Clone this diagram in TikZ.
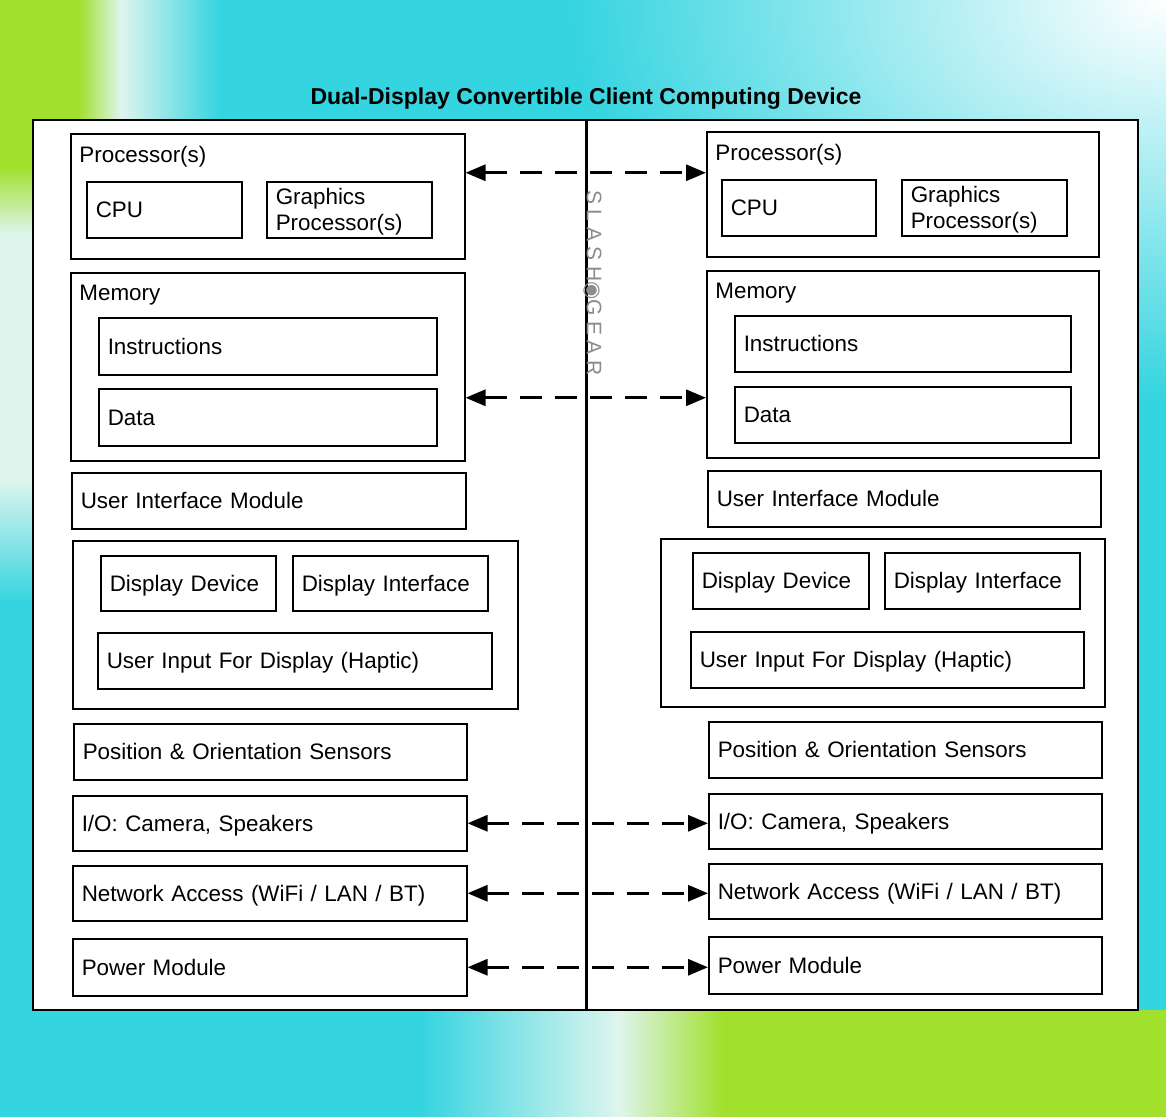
\documentclass[tikz,border=0pt]{standalone}
\usepackage{fontspec}
\setmainfont{Liberation Sans}
\newfontfamily\symfont{DejaVu Sans}
\newfontfamily\markfont[LetterSpace=26]{Liberation Sans}
\usetikzlibrary{arrows.meta}

\definecolor{splashcyan}{RGB}{52,212,224}
\definecolor{splashgreen}{RGB}{162,224,46}
\definecolor{splashpale}{RGB}{222,245,238}

% splash shadings (25bp to 75bp is fitted to the path)
\pgfdeclareverticalshading{leftedge}{100bp}{color(0bp)=(splashcyan); color(48bp)=(splashcyan);
    color(53.5bp)=(splashpale); color(64.5bp)=(splashpale); color(67.5bp)=(splashgreen); color(100bp)=(splashgreen)}
\pgfdeclarehorizontalshading{topleft}{100bp}{color(0bp)=(splashgreen); color(43bp)=(splashgreen);
    color(52.5bp)=(splashpale); color(75bp)=(splashcyan); color(100bp)=(splashcyan)}
\pgfdeclarehorizontalshading{bottomedge}{100bp}{color(0bp)=(splashcyan); color(43bp)=(splashcyan);
    color(51.5bp)=(splashpale); color(56bp)=(splashgreen); color(100bp)=(splashgreen)}

\newcommand{\unitfont}{\fontsize{11.2}{13}\selectfont}

\tikzset{
    unitbox/.style={draw, line width=0.75pt, fill=white, anchor=north west,
        inner xsep=4.5pt, align=left, text height=8pt, text depth=0pt,
        font=\unitfont},
    unitlabel/.style={anchor=base west, inner sep=0pt, font=\unitfont},
    link/.style={line width=1.5pt, dash pattern=on 11pt off 6.5pt,
        {Triangle[length=10pt,width=8pt]}-{Triangle[length=10pt,width=8pt]}}
}

% box from (x1,y1) to (x2,y2), in pixels of the drawing
\newcommand{\unitnode}[7][]{%
    \pgfmathsetmacro{\unitw}{(#5-#3)/2}%
    \pgfmathsetmacro{\unith}{(#6-#4)/2}%
    \pgfmathsetmacro{\unittw}{\unitw-9}%
    \node[unitbox, minimum width=\unitw pt, minimum height=\unith pt,
        text width=\unittw pt, #1] (#2) at (#3,#4) {#7};}

\begin{document}
\begin{tikzpicture}[x=0.5pt, y=-0.5pt]
\useasboundingbox (0,0) rectangle (1166,1116);

% splash background
\begin{scope}
    \clip (0,0) rectangle (1166,1116);
    \fill[splashcyan] (-10,-10) rectangle (1176,1126);
    \shade[inner color=white, outer color=splashcyan] (1166,0) ellipse [x radius=300pt, y radius=200pt];
    \shade[shading=topleft] (0,0) rectangle (220,120);
    \shade[shading=leftedge] (0,0) rectangle (33,1116);
    \shade[shading=bottomedge] (0,1010) rectangle (1166,1116);
\end{scope}

\node[font=\bfseries\fontsize{11.5}{13}\selectfont, anchor=base] (title) at (586,104)
    {Dual-Display Convertible Client Computing Device};

\draw[line width=0.75pt, fill=white] (33,120) rectangle (1138,1010);
\draw[line width=1.5pt] (586,120) -- (586,1010);

\node[rotate=-90, text=black!45, font=\markfont\fontsize{10.5}{12}\selectfont]
    (mark) at (593,283) {SLASH{\symfont ◉}GEAR};

% left display
\unitnode{procL}{70}{133}{464}{258}{}
\node[unitlabel] (procLtxt) at ([shift={(9,29)}]procL.north west) {Processor(s)};
\unitnode{cpuL}{86}{181}{241}{237}{CPU}
\unitnode[text depth=13pt]{gpuL}{266}{181}{431}{237}{Graphics\\Processor(s)}
\unitnode{memL}{70}{272}{464}{460}{}
\node[unitlabel] (memLtxt) at ([shift={(9,28)}]memL.north west) {Memory};
\unitnode{instL}{98}{317}{436}{374}{Instructions}
\unitnode{dataL}{98}{388}{436}{445}{Data}
\unitnode{uimL}{71}{472}{465}{528}{User Interface Module}
\unitnode{dispL}{72}{540}{517}{708}{}
\unitnode{ddevL}{100}{555}{275}{610}{Display Device}
\unitnode{difL}{292}{555}{487}{610}{Display Interface}
\unitnode{hapL}{97}{632}{491}{688}{User Input For Display (Haptic)}
\unitnode{posL}{73}{723}{466}{779}{Position \& Orientation Sensors}
\unitnode{ioL}{72}{795}{466}{850}{I/O: Camera, Speakers}
\unitnode{netL}{72}{865}{466}{920}{Network Access (WiFi / LAN / BT)}
\unitnode{powL}{72}{938}{466}{995}{Power Module}

% right display
\unitnode{procR}{706}{131}{1098}{256}{}
\node[unitlabel] (procRtxt) at ([shift={(9,29)}]procR.north west) {Processor(s)};
\unitnode{cpuR}{721}{179}{875}{235}{CPU}
\unitnode[text depth=13pt]{gpuR}{901}{179}{1066}{235}{Graphics\\Processor(s)}
\unitnode{memR}{706}{270}{1098}{457}{}
\node[unitlabel] (memRtxt) at ([shift={(9,28)}]memR.north west) {Memory};
\unitnode{instR}{734}{315}{1070}{371}{Instructions}
\unitnode{dataR}{734}{386}{1070}{442}{Data}
\unitnode{uimR}{707}{470}{1100}{526}{User Interface Module}
\unitnode{dispR}{660}{538}{1104}{706}{}
\unitnode{ddevR}{692}{552}{868}{608}{Display Device}
\unitnode{difR}{884}{552}{1079}{608}{Display Interface}
\unitnode{hapR}{690}{631}{1083}{687}{User Input For Display (Haptic)}
\unitnode{posR}{708}{721}{1101}{777}{Position \& Orientation Sensors}
\unitnode{ioR}{708}{793}{1101}{848}{I/O: Camera, Speakers}
\unitnode{netR}{708}{863}{1101}{918}{Network Access (WiFi / LAN / BT)}
\unitnode{powR}{708}{936}{1101}{993}{Power Module}

% links between the two halves
\coordinate (procLa) at ([yshift=11.75pt]procL.east);
\coordinate (memLa) at ([yshift=-15.5pt]memL.east);
\draw[link] (procLa) -- (procLa -| procR.west);
\draw[link] (memLa) -- (memLa -| memR.west);
\foreach \a/\b in {ioL/ioR, netL/netR, powL/powR}
    \draw[link] (\a.east) -- (\a.east -| \b.west);
\end{tikzpicture}
\end{document}
